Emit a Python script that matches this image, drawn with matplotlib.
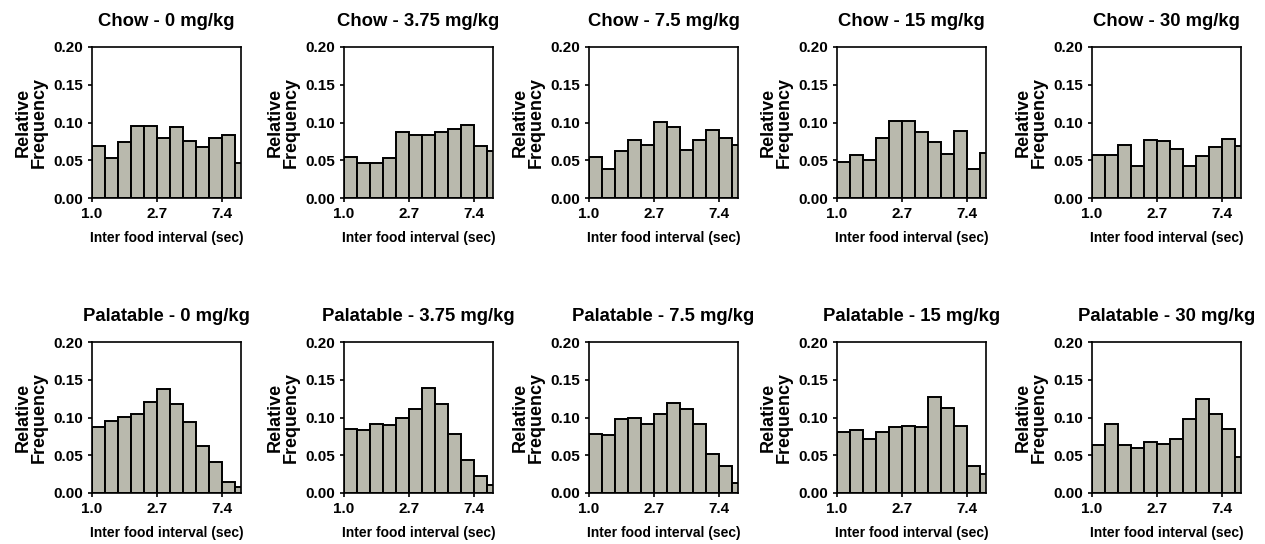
import numpy as np
import matplotlib
matplotlib.use("Agg")
import matplotlib.pyplot as plt

plt.rcParams["font.family"] = ["Liberation Sans", "DejaVu Sans"]
plt.rcParams["font.weight"] = "bold"

# bins in ln(seconds), width 0.2, starting at ln(1.0) = 0
bin_edges = np.arange(0, 2.41, 0.2)
tick_pos = [0, 1, 2]
tick_labels = ["1.0", "2.7", "7.4"]

doses = ["0", "3.75", "7.5", "15", "30"]
diets = ["Chow", "Palatable"]

# relative frequency per bin
chow_0 = [0.069, 0.053, 0.074, 0.095, 0.095, 0.079, 0.094, 0.076, 0.067, 0.080, 0.083, 0.047]
chow_375 = [0.054, 0.047, 0.047, 0.053, 0.088, 0.084, 0.084, 0.088, 0.092, 0.097, 0.069, 0.062]
chow_75 = [0.054, 0.038, 0.062, 0.077, 0.070, 0.101, 0.094, 0.064, 0.077, 0.090, 0.079, 0.070]
chow_15 = [0.048, 0.057, 0.050, 0.079, 0.102, 0.102, 0.087, 0.074, 0.058, 0.089, 0.039, 0.059]
chow_30 = [0.057, 0.057, 0.070, 0.042, 0.077, 0.075, 0.065, 0.043, 0.056, 0.067, 0.078, 0.069]

pal_0 = [0.088, 0.096, 0.101, 0.105, 0.120, 0.138, 0.118, 0.094, 0.062, 0.041, 0.015, 0.008]
pal_375 = [0.085, 0.084, 0.092, 0.090, 0.100, 0.111, 0.139, 0.118, 0.078, 0.044, 0.023, 0.011]
pal_75 = [0.078, 0.077, 0.098, 0.100, 0.092, 0.104, 0.119, 0.111, 0.091, 0.052, 0.036, 0.013]
pal_15 = [0.081, 0.083, 0.071, 0.081, 0.088, 0.089, 0.088, 0.127, 0.112, 0.089, 0.036, 0.025]
pal_30 = [0.064, 0.091, 0.064, 0.060, 0.067, 0.065, 0.072, 0.098, 0.125, 0.105, 0.085, 0.048]

datos = [[chow_0, chow_375, chow_75, chow_15, chow_30],
         [pal_0, pal_375, pal_75, pal_15, pal_30]]

fig = plt.figure(figsize=(12.65, 5.44), dpi=100)
W, H = 1265.0, 544.0
lefts = [92, 344, 589, 837, 1092]
row_top = [47, 342]
ancho = 149
alto = 151

for r in range(2):
    for c in range(5):
        ax = fig.add_axes([lefts[c] / W, 1 - (row_top[r] + alto) / H, ancho / W, alto / H])
        ax.bar(bin_edges[:-1], datos[r][c], width=0.2, align="edge",
               color="#b9b9ad", edgecolor="black", linewidth=1.4)
        ax.set_xlim(0, 2.29)
        ax.set_ylim(0, 0.2)
        ax.set_yticks([0, 0.05, 0.10, 0.15, 0.20])
        ax.set_yticklabels(["0.00", "0.05", "0.10", "0.15", "0.20"])
        ax.set_xticks(tick_pos)
        ax.set_xticklabels(tick_labels)
        ax.tick_params(labelsize=11, width=1.2, length=3, direction="out")
        for s in ax.spines.values():
            s.set_linewidth(1.2)
        ax.set_title(f"{diets[r]} - {doses[c]} mg/kg", fontsize=13.3,
                     fontweight="bold", pad=15)
        ax.set_ylabel("Relative\nFrequency", fontsize=13, fontweight="bold",
                      linespacing=0.95, labelpad=4)
        ax.set_xlabel("Inter food interval (sec)", fontsize=10,
                      fontweight="bold", labelpad=7)

fig.savefig("out.png", dpi=100)
